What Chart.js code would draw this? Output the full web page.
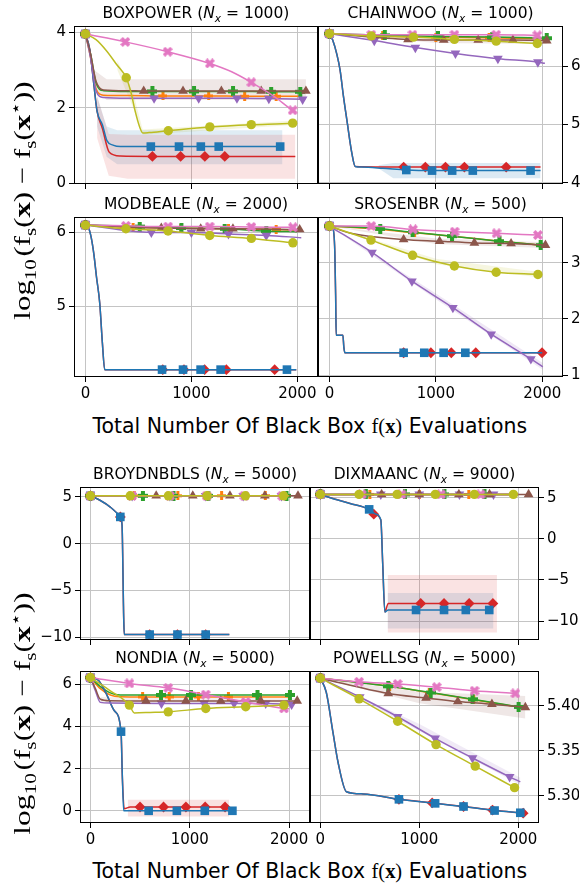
<!DOCTYPE html>
<html>
<head>
<meta charset="utf-8">
<script src="https://cdn.jsdelivr.net/npm/chart.js@4.4.1/dist/chart.umd.min.js"></script>
<style>
  html, body { margin: 0; padding: 0; background: #fff; }
  body { position: relative; width: 582px; height: 886px; overflow: hidden; font-family: "DejaVu Sans", sans-serif; color: #000; }
  canvas { position: absolute; }
  .ttl { position: absolute; font-size: 15.5px; white-space: nowrap; transform: translate(-50%, -50%); }
  .xlab { position: absolute; font-size: 22px; white-space: nowrap; font-family: "DejaVu Sans", sans-serif; }
  .ser { font-family: "Liberation Serif", serif; }
  .ylab { position: absolute; font-family: "Liberation Serif", serif; font-size: 24px; white-space: nowrap; }
  sub, sup { font-size: 0.68em; line-height: 0; }
</style>
</head>
<body>
<script>
// ---- data: [x, y, marker?] per series, order: blue, orange, green, red, purple, brown, pink, olive ----
const xTicks = [0, 1000, 2000];
const titles = ['BOXPOWER', 'CHAINWOO', 'MODBEALE', 'SROSENBR', 'BROYDNBDLS', 'DIXMAANC', 'NONDIA', 'POWELLSG'];
const dims = [1000, 1000, 2000, 500, 5000, 9000, 5000, 5000];

// BOXPOWER
const boxBlue = [[0,3.95,1],[40,3.55,0],[80,2.6,0],[110,1.9,0],[160,1.55,0],[204,1.12,0],[260,1.01,0],[330,0.97,0],[617,0.97,1],[883,0.97,1],[1089,0.97,1],[1258,0.97,1],[1838,0.97,1]];
const boxOrange = [[0,3.95,1],[50,3.3,0],[100,2.5,0],[170,2.33,0],[400,2.32,0],[732,2.31,1],[1163,2.31,1],[1503,2.3,1],[1800,2.3,1],[2040,2.3,0]];
const boxGreen = [[0,3.95,1],[50,3.4,0],[100,2.65,0],[170,2.45,0],[400,2.43,0],[632,2.43,1],[1025,2.43,1],[1393,2.43,1],[1753,2.42,1],[2028,2.42,1]];
const boxRed = [[0,3.95,1],[40,3.55,0],[80,2.6,0],[110,1.9,0],[160,1.45,0],[225,0.82,0],[330,0.72,0],[632,0.71,1],[898,0.71,1],[1127,0.71,1],[1315,0.71,1],[1981,0.71,0]];
const boxPurple = [[0,3.95,1],[50,3.3,0],[100,2.45,0],[170,2.27,0],[400,2.25,0],[648,2.25,1],[1069,2.25,1],[1430,2.25,1],[1731,2.24,1],[2050,2.22,1]];
const boxBrown = [[0,3.95,1],[50,3.4,0],[100,2.7,0],[170,2.47,0],[400,2.45,0],[550,2.44,1],[921,2.44,1],[1283,2.44,1],[1659,2.44,1],[2081,2.44,1]];
const boxPink = [[0,3.95,1],[376,3.74,1],[776,3.48,1],[1174,3.17,1],[1380,2.95,0],[1565,2.67,1],[1780,2.3,0],[1956,1.93,1],[1990,1.88,0]];
const boxOlive = [[0,3.95,1],[100,3.8,0],[200,3.5,0],[300,3.12,0],[385,2.79,1],[430,2.4,0],[470,1.9,0],[510,1.5,0],[542,1.33,0],[600,1.34,0],[782,1.39,1],[1174,1.49,1],[1565,1.55,1],[1956,1.59,1],[1990,1.6,0]];
const boxBlueBand = [[110,1.5,2.3],[200,0.7,1.5],[300,0.5,1.4],[1860,0.5,1.4]];
const boxRedBand = [[110,1.2,2.3],[220,0.2,1.3],[400,0.12,1.28],[1981,0.12,1.28]];
const boxBrownBand = [[80,2.5,3.0],[200,2.2,2.75],[2081,2.2,2.75]];
const boxOliveBand = [[300,3.0,3.25],[450,2.0,2.4],[540,1.28,1.42],[1990,1.55,1.66]];

// CHAINWOO
const chainBlue = [[0,6.56,1],[30,6.45,0],[70,6.2,0],[100,5.93,0],[130,5.5,0],[164,5.07,0],[211,4.5,0],[242,4.28,0],[300,4.27,0],[500,4.25,0],[722,4.22,1],[964,4.21,1],[1153,4.21,1],[1347,4.21,1],[1890,4.21,1],[1984,4.21,0]];
const chainOrange = [[0,6.56,1],[500,6.52,1],[1000,6.5,1],[1500,6.49,1],[2030,6.47,0]];
const chainGreen = [[0,6.56,1],[520,6.53,1],[1020,6.51,1],[1530,6.5,1],[2042,6.48,1]];
const chainRed = [[0,6.56,1],[30,6.45,0],[70,6.2,0],[100,5.93,0],[130,5.5,0],[164,5.07,0],[211,4.5,0],[242,4.28,0],[697,4.27,1],[901,4.27,1],[1090,4.27,1],[1268,4.27,1],[1661,4.27,1],[1984,4.27,0]];
const chainPurple = [[0,6.56,1],[421,6.44,1],[807,6.32,1],[1184,6.22,1],[1583,6.13,1],[1959,6.07,1],[2025,6.05,0]];
const chainBrown = [[0,6.56,1],[738,6.46,1],[1074,6.45,1],[1398,6.45,1],[1724,6.45,1],[2042,6.44,1]];
const chainPink = [[0,6.56,1],[393,6.54,1],[780,6.54,1],[1174,6.54,1],[1567,6.54,1],[1953,6.53,1]];
const chainOlive = [[0,6.56,1],[393,6.52,1],[790,6.5,1],[1174,6.46,1],[1567,6.43,1],[1953,6.39,1]];
const chainBlueBand = [[460,4.25,4.3],[600,4.08,4.34],[1984,4.08,4.34]];
const chainBrownBand = [[0,6.56,6.56],[1000,6.4,6.52],[2042,6.38,6.52]];

// MODBEALE
const modbBlue = [[0,6.1,1],[30,6.06,0],[56,5.92,0],[80,5.7,0],[104,5.4,0],[135,5.04,0],[160,4.5,0],[182,4.14,0],[723,4.14,1],[921,4.14,1],[1087,4.14,1],[1276,4.14,1],[1902,4.14,1],[1990,4.14,0]];
const modbOrange = [[0,6.1,1],[450,6.07,1],[900,6.06,1],[1350,6.05,1],[1800,6.04,1],[2000,6.03,0]];
const modbGreen = [[0,6.1,1],[512,6.08,1],[906,6.06,1],[1314,6.05,1],[1707,6.02,1],[2000,6.01,0]];
const modbRed = [[0,6.1,1],[30,6.06,0],[56,5.92,0],[80,5.7,0],[104,5.4,0],[135,5.04,0],[160,4.5,0],[182,4.14,0],[730,4.14,1],[930,4.14,1],[1125,4.14,1],[1330,4.14,1],[1786,4.14,1],[1990,4.14,0]];
const modbPurple = [[0,6.1,1],[622,6.0,1],[1000,6.0,1],[1350,5.98,1],[1707,5.96,1],[2037,5.93,0]];
const modbBrown = [[0,6.1,1],[716,6.06,1],[1088,6.05,1],[1392,6.05,1],[2022,6.04,1]];
const modbPink = [[0,6.1,1],[382,6.09,1],[780,6.08,1],[1173,6.08,1],[1566,6.075,1],[1958,6.07,1]];
const modbOlive = [[0,6.1,1],[382,6.05,1],[780,6.02,1],[1173,5.96,1],[1566,5.92,1],[1958,5.86,1]];

// SROSENBR
const srosBlue = [[0,3.65,1],[30,3.62,0],[50,3.2,0],[58,2.4,0],[63,1.71,0],[126,1.71,0],[135,1.5,0],[145,1.4,0],[697,1.4,1],[891,1.4,1],[1073,1.4,1],[1277,1.4,1],[2000,1.4,0]];
const srosOrange = [[0,3.65,1],[480,3.59,1],[800,3.53,1],[1150,3.47,1],[1600,3.38,1],[1985,3.31,0]];
const srosGreen = [[0,3.65,1],[477,3.6,1],[781,3.54,1],[1152,3.47,1],[1597,3.38,1],[1985,3.31,1]];
const srosRed = [[0,3.65,1],[30,3.62,0],[50,3.2,0],[58,2.4,0],[63,1.71,0],[126,1.71,0],[135,1.5,0],[145,1.4,0],[697,1.4,1],[953,1.4,1],[1145,1.4,1],[1375,1.4,1],[1998,1.4,1]];
const srosPurple = [[0,3.65,1],[400,3.18,1],[775,2.67,1],[1160,2.2,1],[1520,1.73,1],[1893,1.29,1],[2005,1.15,0]];
const srosBrown = [[0,3.65,1],[200,3.52,0],[697,3.41,1],[1035,3.38,1],[1362,3.35,1],[1707,3.34,1],[2030,3.31,1]];
const srosPink = [[0,3.65,1],[393,3.65,1],[785,3.59,1],[1177,3.55,1],[1570,3.52,1],[1959,3.49,1]];
const srosOlive = [[0,3.65,1],[390,3.4,1],[781,3.13,1],[1174,2.94,1],[1567,2.83,1],[1959,2.79,1]];
const srosPurpleBand = [[0,3.65,3.65],[1000,2.35,2.45],[2005,1.1,1.22]];
const srosBrownBand = [[0,3.65,3.65],[1000,3.33,3.43],[2030,3.26,3.36]];
const srosOliveBand = [[0,3.65,3.65],[1000,2.97,3.07],[1959,2.74,2.84]];

// BROYDNBDLS
const broyBlue = [[0,5.1,1],[100,4.6,0],[200,3.9,0],[301,2.85,1],[318,2.0,0],[335,-8.0,0],[341,-9.7,0],[596,-9.7,1],[876,-9.7,1],[1160,-9.7,1],[1398,-9.7,0]];
const broyOrange = [[0,5.1,1],[440,5.1,1],[880,5.1,1],[1320,5.1,1],[1760,5.1,1],[2000,5.1,0]];
const broyGreen = [[0,5.1,1],[528,5.1,1],[836,5.1,1],[1187,5.1,1],[1973,5.1,1]];
const broyRed = [[0,5.1,1],[100,4.6,0],[200,3.9,0],[301,2.85,1],[318,2.0,0],[335,-8.0,0],[341,-9.7,0],[596,-9.7,1],[876,-9.7,1],[1160,-9.7,1],[1398,-9.7,0]];
const broyPurple = [[0,5.1,1],[420,5.1,1],[800,5.1,1],[1160,5.1,1],[1538,5.1,1],[1923,5.1,1],[2000,5.1,0]];
const broyBrown = [[0,5.1,1],[662,5.1,1],[1030,5.1,1],[1404,5.1,1],[1755,5.1,1],[2089,5.1,1]];
const broyPink = [[0,5.1,1],[418,5.1,1],[800,5.1,1],[1170,5.1,1],[1550,5.1,1],[1930,5.1,1]];
const broyOlive = [[0,5.1,1],[401,5.1,1],[785,5.1,1],[1174,5.1,1],[1560,5.1,1],[1943,5.1,1],[2000,5.1,0]];

// DIXMAANC
const dixmBlue = [[0,5.4,1],[100,5.0,0],[300,4.3,0],[493,3.58,1],[560,3.0,0],[611,2.3,0],[630,-3.0,0],[652,-8.9,0],[686,-8.65,0],[967,-8.65,1],[1250,-8.65,1],[1470,-8.65,1],[1707,-8.65,1]];
const dixmOrange = [[0,5.4,1],[500,5.4,1],[1000,5.4,1],[1500,5.4,1],[2000,5.4,0]];
const dixmGreen = [[0,5.4,1],[459,5.4,1],[855,5.4,1],[1254,5.4,1],[1659,5.4,1],[2000,5.4,0]];
const dixmRed = [[0,5.4,1],[100,5.0,0],[300,4.3,0],[493,3.55,0],[540,3.0,1],[611,2.3,0],[630,-3.0,0],[652,-8.9,0],[686,-7.85,0],[1014,-7.85,1],[1250,-7.85,1],[1504,-7.85,1],[1744,-7.85,1],[1785,-7.85,0]];
const dixmPurple = [[0,5.4,1],[611,5.4,1],[1000,5.4,1],[1406,5.4,1],[1750,5.4,1],[2000,5.4,0]];
const dixmBrown = [[0,5.4,1],[619,5.4,1],[1000,5.4,1],[1400,5.4,1],[1710,5.4,1],[2105,5.4,1]];
const dixmPink = [[0,5.4,1],[420,5.4,1],[820,5.4,1],[1220,5.4,1],[1620,5.4,1],[2000,5.4,0]];
const dixmOlive = [[0,5.4,1],[391,5.4,1],[776,5.4,1],[1162,5.4,1],[1556,5.4,1],[1951,5.4,1]];
const dixmRedBand = [[679,-11.4,-4.4],[1785,-11.4,-4.4]];
const dixmBlueBand = [[679,-10.9,-6.6],[1750,-10.9,-6.6]];

// NONDIA
const nondBlue = [[0,6.33,1],[80,6.2,0],[158,5.58,0],[241,4.75,0],[308,3.76,1],[322,1.5,0],[335,0.0,0],[586,0.0,1],[870,0.0,1],[1151,0.0,1],[1429,0.0,1]];
const nondOrange = [[0,6.33,1],[100,5.8,0],[200,5.5,0],[300,5.42,0],[525,5.41,1],[793,5.41,1],[1087,5.41,1],[1389,5.41,1],[2000,5.41,0]];
const nondGreen = [[0,6.33,1],[100,5.9,0],[200,5.6,0],[300,5.5,0],[710,5.5,1],[1011,5.5,1],[1681,5.5,1],[2008,5.5,1]];
const nondRed = [[0,6.33,1],[80,6.2,0],[158,5.58,0],[241,4.75,0],[308,3.76,0],[322,1.5,0],[340,0.1,0],[400,0.18,0],[499,0.18,1],[736,0.18,1],[961,0.18,1],[1155,0.18,1],[1355,0.18,1],[1396,0.18,0]];
const nondPurple = [[0,6.33,1],[50,5.7,0],[100,5.15,0],[200,5.12,0],[715,5.1,1],[1145,5.1,1],[1446,5.1,1],[1764,5.1,1],[2025,5.05,1]];
const nondBrown = [[0,6.33,1],[50,5.8,0],[100,5.3,0],[200,5.23,0],[559,5.22,1],[961,5.22,1],[1312,5.22,1],[1714,5.22,1],[2081,5.22,1]];
const nondPink = [[0,6.33,1],[392,6.05,1],[783,5.84,1],[1161,5.52,1],[1563,5.17,1],[1948,4.86,1],[2000,4.85,0]];
const nondOlive = [[0,6.33,1],[200,5.7,0],[392,5.02,1],[442,4.65,0],[600,4.67,0],[783,4.7,1],[1161,4.86,1],[1563,4.94,1],[1948,5.02,1]];
const nondRedBand = [[375,-0.27,0.52],[1396,-0.27,0.52]];
const nondBrownBand = [[100,5.1,5.4],[2081,5.1,5.35]];

// POWELLSG
const powlBlue = [[0,5.431,1],[60,5.415,0],[128,5.37,0],[179,5.337,0],[263,5.3045,0],[432,5.302,0],[794,5.296,1],[1160,5.2915,1],[1447,5.288,1],[1761,5.2835,1],[2021,5.281,1]];
const powlOrange = [[0,5.431,1],[700,5.422,1],[1100,5.415,1],[1550,5.407,1],[2000,5.399,0]];
const powlGreen = [[0,5.431,1],[686,5.422,1],[1115,5.415,1],[1538,5.4075,1],[2004,5.399,1]];
const powlRed = [[0,5.431,1],[60,5.415,0],[128,5.37,0],[179,5.337,0],[263,5.3045,0],[432,5.302,0],[794,5.296,1],[1130,5.292,1],[1447,5.288,1],[1740,5.284,1],[2050,5.2805,1]];
const powlPurple = [[0,5.431,1],[398,5.41,1],[781,5.388,1],[1160,5.364,1],[1538,5.342,1],[1913,5.321,1],[2021,5.3155,0]];
const powlBrown = [[0,5.431,1],[686,5.414,1],[1068,5.409,1],[1389,5.405,1],[1734,5.402,1],[2072,5.3985,1]];
const powlPink = [[0,5.431,1],[391,5.427,1],[781,5.4245,1],[1176,5.421,1],[1558,5.417,1],[1971,5.414,1]];
const powlOlive = [[0,5.431,1],[391,5.408,1],[781,5.383,1],[1169,5.357,1],[1565,5.333,1],[1963,5.309,1]];
const powlBrownBand = [[0,5.431,5.431],[1000,5.403,5.416],[2072,5.386,5.411]];
const powlPurpleBand = [[0,5.431,5.431],[1000,5.372,5.38],[2021,5.312,5.32]];

// y tick values per panel
const boxYTicks = [0, 2, 4];
const chainYTicks = [4, 5, 6];
const modbYTicks = [5, 6];
const srosYTicks = [1, 2, 3];
const broyYTicks = [-10, -5, 0, 5];
const dixmYTicks = [-10, -5, 0, 5];
const nondYTicks = [0, 2, 4, 6];
const powlYTicks = [5.30, 5.35, 5.40];

// ---- styles ----
const COLORS = ['#1f77b4', '#ff7f0e', '#2ca02c', '#d62728', '#9467bd', '#8c564b', '#e377c2', '#bcbd22'];
// draw order (lower = on top): blue sits above red, olive above all
const ORDER = [16.5, 19, 18, 17, 16, 15, 14, 13];

function alpha(hex, a) {
  const n = parseInt(hex.slice(1), 16);
  return `rgba(${n >> 16},${(n >> 8) & 255},${n & 255},${a})`;
}

function plusMarker(color, size, thick) {
  const c = document.createElement('canvas');
  c.width = c.height = size;
  const g = c.getContext('2d');
  g.fillStyle = color;
  const o = (size - thick) / 2;
  g.fillRect(o, 0, thick, size);
  g.fillRect(0, o, size, thick);
  return c;
}

function xMarker(color, size, thick) {
  const c = document.createElement('canvas');
  c.width = c.height = size;
  const g = c.getContext('2d');
  g.fillStyle = color;
  g.translate(size / 2, size / 2);
  g.rotate(Math.PI / 4);
  const L = size / Math.SQRT2 - thick / 2;
  g.fillRect(-thick / 2, -L, thick, 2 * L);
  g.fillRect(-L, -thick / 2, 2 * L, thick);
  return c;
}

const STYLES = [
  { style: 'rect', r: 6.1 },
  { style: plusMarker(COLORS[1], 9, 3), r: 4 },
  { style: plusMarker(COLORS[2], 10, 4), r: 4 },
  { style: 'rectRot', r: 5.4 },
  { style: 'triangle', r: 5.6, rot: 180 },
  { style: 'triangle', r: 5.6 },
  { style: xMarker(COLORS[6], 10, 3.6), r: 4 },
  { style: 'circle', r: 4.7 }
];

const framePlugin = {
  id: 'frame',
  afterDraw(chart) {
    const { ctx, chartArea: a } = chart;
    ctx.save();
    ctx.strokeStyle = '#000';
    ctx.lineWidth = 1;
    ctx.strokeRect(Math.round(a.left) + 0.5, Math.round(a.top) + 0.5,
      Math.round(a.right - a.left) - 1, Math.round(a.bottom - a.top) - 1);
    ctx.restore();
  }
};

Chart.defaults.font.family = '"DejaVu Sans", sans-serif';
Chart.defaults.font.size = 15;
Chart.defaults.color = '#000';

const topX = [-108, 2195];
const botX = [-105, 2210];

const panels = [
  { box: [74, 26, 318, 184], side: 'left', showX: false, xr: topX, yr: [-0.02, 4.16], yt: boxYTicks, dec: 0,
    series: [boxBlue, boxOrange, boxGreen, boxRed, boxPurple, boxBrown, boxPink, boxOlive],
    bands: [[boxRedBand, 3, 0.13], [boxBlueBand, 0, 0.14], [boxBrownBand, 5, 0.14], [boxOliveBand, 7, 0.15]] },
  { box: [318, 26, 563, 184], side: 'right', showX: false, xr: topX, yr: [3.98, 6.69], yt: chainYTicks, dec: 0,
    series: [chainBlue, chainOrange, chainGreen, chainRed, chainPurple, chainBrown, chainPink, chainOlive],
    bands: [[chainBlueBand, 0, 0.16], [chainBrownBand, 5, 0.12]] },
  { box: [74, 217, 318, 377], side: 'left', showX: true, xr: topX, yr: [4.04, 6.21], yt: modbYTicks, dec: 0,
    series: [modbBlue, modbOrange, modbGreen, modbRed, modbPurple, modbBrown, modbPink, modbOlive],
    bands: [] },
  { box: [318, 217, 563, 377], side: 'right', showX: true, xr: topX, yr: [0.97, 3.81], yt: srosYTicks, dec: 0,
    series: [srosBlue, srosOrange, srosGreen, srosRed, srosPurple, srosBrown, srosPink, srosOlive],
    bands: [[srosPurpleBand, 4, 0.15], [srosBrownBand, 5, 0.14], [srosOliveBand, 7, 0.14]] },
  { box: [80, 487, 310, 640], side: 'left', showX: false, xr: botX, yr: [-10.28, 6.04], yt: broyYTicks, dec: 0,
    series: [broyBlue, broyOrange, broyGreen, broyRed, broyPurple, broyBrown, broyPink, broyOlive],
    bands: [] },
  { box: [310, 487, 539, 640], side: 'right', showX: false, xr: botX, yr: [-12.3, 6.3], yt: dixmYTicks, dec: 0,
    series: [dixmBlue, dixmOrange, dixmGreen, dixmRed, dixmPurple, dixmBrown, dixmPink, dixmOlive],
    bands: [[dixmRedBand, 3, 0.13], [dixmBlueBand, 0, 0.14]] },
  { box: [80, 671, 310, 823], side: 'left', showX: true, xr: botX, yr: [-0.58, 6.64], yt: nondYTicks, dec: 0,
    series: [nondBlue, nondOrange, nondGreen, nondRed, nondPurple, nondBrown, nondPink, nondOlive],
    bands: [[nondRedBand, 3, 0.14], [nondBrownBand, 5, 0.1]] },
  { box: [310, 671, 539, 823], side: 'right', showX: true, xr: botX, yr: [5.2696, 5.439], yt: powlYTicks, dec: 2,
    series: [powlBlue, powlOrange, powlGreen, powlRed, powlPurple, powlBrown, powlPink, powlOlive],
    bands: [[powlBrownBand, 5, 0.14], [powlPurpleBand, 4, 0.14]] }
];

function fmtTick(v, dec) {
  const s = Math.abs(v).toFixed(dec);
  return v < 0 ? '\u2212' + s : s;
}

function buildDatasets(p) {
  const ds = [];
  p.bands.forEach(([band, ci, a]) => {
    ds.push({ data: band.map(b => ({ x: b[0], y: b[2] })), fill: '+1', backgroundColor: alpha(COLORS[ci], a),
      borderWidth: 0, pointRadius: 0, order: 100 });
    ds.push({ data: band.map(b => ({ x: b[0], y: b[1] })), fill: false, borderWidth: 0, pointRadius: 0, order: 100 });
  });
  p.series.forEach((pts, i) => {
    const st = STYLES[i];
    ds.push({
      data: pts.map(q => ({ x: q[0], y: q[1] })),
      borderColor: COLORS[i],
      backgroundColor: COLORS[i],
      borderWidth: 1.5,
      pointStyle: st.style,
      pointRotation: st.rot || 0,
      pointRadius: pts.map(q => q[2] ? st.r : 0),
      pointBorderWidth: 0,
      pointHoverRadius: 0,
      cubicInterpolationMode: 'monotone',
      fill: false,
      order: ORDER[i]
    });
  });
  return ds;
}

function makePanel(p, idx) {
  const [l, t, r, b] = p.box;
  const W = r - l, H = b - t;
  const cv = document.createElement('canvas');
  cv.width = W + 100;
  cv.height = H + 50;
  cv.style.left = (l - 50) + 'px';
  cv.style.top = (t - 20) + 'px';
  document.body.appendChild(cv);
  const left = p.side === 'left';
  const grid = { color: '#c4c4c4', lineWidth: 1, tickColor: '#000', tickLength: 5, tickWidth: 1 };
  new Chart(cv, {
    type: 'line',
    data: { datasets: buildDatasets(p) },
    options: {
      responsive: false,
      animation: false,
      devicePixelRatio: 1,
      layout: { padding: { left: left ? 10 : 50, right: left ? 50 : 10, top: 20, bottom: 5 } },
      plugins: { legend: { display: false }, tooltip: { enabled: false } },
      scales: {
        x: {
          type: 'linear', min: p.xr[0], max: p.xr[1],
          afterBuildTicks: s => { s.ticks = xTicks.map(v => ({ value: v })); },
          afterFit: s => { s.height = 25; },
          grid: grid, border: { display: false },
          ticks: { display: p.showX, padding: 3, maxRotation: 0, autoSkip: false, callback: v => String(v) }
        },
        y: {
          type: 'linear', position: left ? 'left' : 'right', min: p.yr[0], max: p.yr[1],
          afterBuildTicks: s => { s.ticks = p.yt.map(v => ({ value: v })); },
          afterFit: s => { s.width = 40; },
          grid: grid, border: { display: false },
          ticks: { padding: 3, autoSkip: false, callback: v => fmtTick(v, p.dec) }
        }
      }
    },
    plugins: [framePlugin]
  });

  const tt = document.createElement('div');
  tt.className = 'ttl';
  tt.innerHTML = `${titles[idx]} (<i>N<sub>x</sub></i> = ${dims[idx]})`;
  tt.style.left = ((l + r) / 2) + 'px';
  tt.style.top = (t - 13) + 'px';
  document.body.appendChild(tt);
}

panels.forEach(makePanel);

function addXLabel(cx, cy, target) {
  const el = document.createElement('div');
  el.className = 'xlab';
  el.innerHTML = 'Total Number Of Black Box <span class="ser">f(<b>x</b>)</span> Evaluations';
  document.body.appendChild(el);
  const w = el.offsetWidth, h = el.offsetHeight;
  el.style.left = (cx - w / 2) + 'px';
  el.style.top = (cy - h / 2) + 'px';
  el.style.transform = `scaleX(${target / w})`;
}

function addYLabel(cx, cy, target) {
  const el = document.createElement('div');
  el.className = 'ylab';
  el.innerHTML = 'log<sub>10</sub>&#8202;(f<sub>s</sub>(<b>x</b>) &minus; f<sub>s</sub>(<b>x</b><sup>&#8902;</sup>))';
  document.body.appendChild(el);
  const w = el.offsetWidth, h = el.offsetHeight;
  el.style.left = (cx - w / 2) + 'px';
  el.style.top = (cy - h / 2) + 'px';
  el.style.transform = `rotate(-90deg) scaleX(${target / w})`;
}

addXLabel(310, 426, 435);
addXLabel(310, 871, 435);
addYLabel(22, 200, 238);
addYLabel(22, 713, 242);
</script>
</body>
</html>
